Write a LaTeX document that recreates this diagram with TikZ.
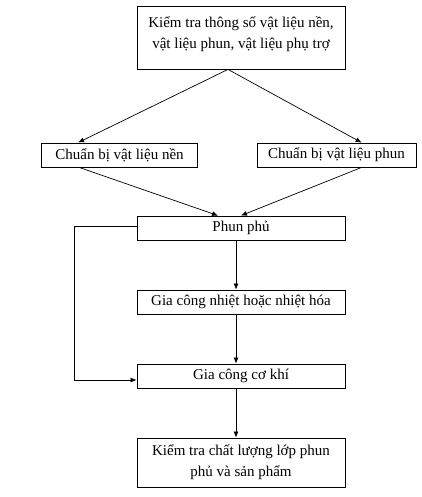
\documentclass[tikz,border=0pt]{standalone}
\usepackage{fontspec}
\setmainfont{Liberation Serif}
\usetikzlibrary{arrows.meta,calc}
\begin{document}
\begin{tikzpicture}[x=1pt,y=-1pt,
  box/.style={draw, line width=0.8pt, inner sep=0pt, align=center, font=\fontsize{15}{21}\selectfont},
  arr/.style={line width=0.7pt, -{Latex[length=6pt,width=5pt]}},
  ln/.style={line width=0.7pt}]
\useasboundingbox (0,0) rectangle (421,497);
\node[box, minimum width=208pt, minimum height=63pt] (top) at (241,37.5)
  {Kiểm tra thông số vật liệu nền,\\vật liệu phun, vật liệu phụ trợ\rule[-10pt]{0pt}{1pt}};
\node[box, minimum width=156pt, minimum height=24pt] (left) at (119.5,155) {Chuẩn bị vật liệu nền};
\node[box, minimum width=159pt, minimum height=24pt] (right) at (336.5,155) {Chuẩn bị vật liệu phun};
\node[box, minimum width=208pt, minimum height=24pt] (phun) at (241,228) {Phun phủ};
\node[box, minimum width=208pt, minimum height=24pt] (nhiet) at (241,302) {Gia công nhiệt hoặc nhiệt hóa};
\node[box, minimum width=208pt, minimum height=24pt] (cokhi) at (241,376) {Gia công cơ khí};
\node[box, minimum width=208pt, minimum height=49pt] (kt) at (241,462.5) {Kiểm tra chất lượng lớp phun\\phủ và sản phẩm};
\coordinate (fb) at (74,0);
\coordinate (fbs) at ($(phun.west)+(0,-2)$);
\coordinate (fbe) at ($(cokhi.west)+(0,4)$);
\draw[arr] ($(top.south)+(-13,0)$) -- ($(left.north west)+(37,0)$);
\draw[arr] ($(top.south)+(-13,0)$) -- ($(right.north west)+(105,0)$);
\draw[arr] ($(left.south west)+(38,0)$) -- ($(phun.north)+(-23,0)$);
\draw[arr] ($(right.south west)+(105,0)$) -- ($(phun.north)+(0,0)$);
\draw[arr] ($(phun.south)+(-5,0)$) -- ($(nhiet.north)+(-5,0)$);
\draw[arr] ($(nhiet.south)+(-5,0)$) -- ($(cokhi.north)+(-5,0)$);
\draw[arr] ($(cokhi.south)+(-5,0)$) -- ($(kt.north)+(-5,0)$);
\draw[arr] (fbs) -- (fbs -| fb) |- (fbe);
\end{tikzpicture}
\end{document}
